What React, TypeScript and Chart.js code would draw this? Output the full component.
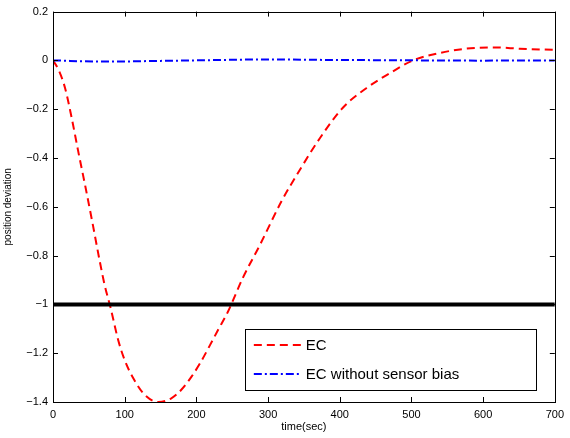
import React, { useEffect, useRef } from "react";
import { Chart, registerables } from "chart.js";

Chart.register(...registerables);

// EC response (position deviation vs. time)
const ecTime = [0, 8, 17, 26, 35, 45, 55, 65, 72, 80, 91, 100, 112, 128, 147, 165, 179, 193, 205, 219, 230, 244, 265, 288, 319, 344, 372, 404, 437, 474, 502, 539, 576, 616, 651, 700];
const ecDeviation = [0, -0.04, -0.115, -0.235, -0.37, -0.515, -0.665, -0.82, -0.92, -1.01, -1.147, -1.228, -1.303, -1.371, -1.4, -1.385, -1.35, -1.297, -1.242, -1.167, -1.106, -1.03, -0.89, -0.76, -0.576, -0.45, -0.32, -0.195, -0.114, -0.045, 0, 0.03, 0.048, 0.053, 0.048, 0.043];

// EC without sensor bias
const noBiasTime = [0, 70, 150, 220, 300, 380, 450, 520, 600, 650, 700];
const noBiasDeviation = [0, -0.005, -0.002, 0.001, 0.004, 0.002, 0.001, 0, -0.001, 0, 0];

// Deviation limit
const limitTime = [0, 700];
const limitDeviation = [-1, -1];

const xTicks = [0, 100, 200, 300, 400, 500, 600, 700];
const yTicks = [0.2, 0, -0.2, -0.4, -0.6, -0.8, -1, -1.2, -1.4];

const seriesLabels = ["EC", "EC without sensor bias"];

const RED_DASH = [8, 5];
const BLUE_DASH = [8, 3, 2, 3];
const FONT = "'Liberation Sans', Arial, Helvetica, sans-serif";

const toPoints = (xs: number[], ys: number[]) => xs.map((x, i) => ({ x, y: ys[i] }));

const fmt = (v: number) => {
  const r = Math.round(v * 10) / 10;
  if (r === 0) return "0";
  return String(r).replace("-", "\u2212");
};

// Box around the plot plus inward tick marks on all four sides
const framePlugin = {
  id: "frame",
  afterDatasetsDraw(chart: any) {
    const { ctx, chartArea: a, scales } = chart;
    const len = 5;
    ctx.save();
    ctx.strokeStyle = "#000";
    ctx.lineWidth = 1;
    ctx.beginPath();
    for (const t of xTicks) {
      const px = Math.round(scales.x.getPixelForValue(t)) + 0.5;
      ctx.moveTo(px, a.bottom);
      ctx.lineTo(px, a.bottom - len);
      ctx.moveTo(px, a.top);
      ctx.lineTo(px, a.top + len);
    }
    for (const t of yTicks) {
      const py = Math.round(scales.y.getPixelForValue(t)) + 0.5;
      ctx.moveTo(a.left, py);
      ctx.lineTo(a.left + len, py);
      ctx.moveTo(a.right, py);
      ctx.lineTo(a.right - len, py);
    }
    ctx.stroke();
    ctx.strokeRect(Math.round(a.left) + 0.5, Math.round(a.top) + 0.5, Math.round(a.right - a.left), Math.round(a.bottom - a.top));
    ctx.restore();
  },
};

// Legend box inside the plot, lower right
const legendPlugin = {
  id: "boxLegend",
  afterDraw(chart: any) {
    const { ctx, chartArea: a } = chart;
    const w = 291;
    const h = 61;
    const x0 = a.right - 19 - w;
    const y0 = a.bottom - 12 - h;
    ctx.save();
    ctx.fillStyle = "#fff";
    ctx.fillRect(x0, y0, w, h);
    ctx.strokeStyle = "#000";
    ctx.lineWidth = 1;
    ctx.strokeRect(Math.round(x0) + 0.5, Math.round(y0) + 0.5, w, h);
    const ds = chart.data.datasets.filter((d: any) => seriesLabels.includes(d.label));
    const rows = [y0 + 16, y0 + 45];
    seriesLabels.forEach((lab, i) => {
      const d = ds.find((q: any) => q.label === lab);
      const y = rows[i];
      ctx.beginPath();
      ctx.setLineDash(d.borderDash);
      ctx.strokeStyle = d.borderColor;
      ctx.lineWidth = d.borderWidth;
      ctx.moveTo(x0 + 9, y);
      ctx.lineTo(x0 + 56, y);
      ctx.stroke();
      ctx.setLineDash([]);
      ctx.fillStyle = "#000";
      ctx.font = `15px ${FONT}`;
      ctx.textBaseline = "middle";
      ctx.textAlign = "left";
      ctx.fillText(lab, x0 + 61, y + 1);
    });
    ctx.restore();
  },
};

export default function App() {
  const ref = useRef<HTMLCanvasElement | null>(null);

  useEffect(() => {
    document.body.style.margin = "0";
    const canvas = ref.current;
    if (!canvas) return;
    const chart = new Chart(canvas, {
      type: "line",
      data: {
        datasets: [
          {
            label: "limit",
            data: toPoints(limitTime, limitDeviation),
            borderColor: "#000",
            borderWidth: 4,
            pointRadius: 0,
          },
          {
            label: seriesLabels[1],
            data: toPoints(noBiasTime, noBiasDeviation),
            borderColor: "#0000ff",
            borderWidth: 2,
            borderDash: BLUE_DASH,
            pointRadius: 0,
            cubicInterpolationMode: "monotone",
          },
          {
            label: seriesLabels[0],
            data: toPoints(ecTime, ecDeviation),
            borderColor: "#ff0000",
            borderWidth: 2,
            borderDash: RED_DASH,
            pointRadius: 0,
            cubicInterpolationMode: "monotone",
          },
        ],
      },
      options: {
        responsive: false,
        animation: false,
        events: [],
        layout: { padding: { top: 10, right: 14, left: 0, bottom: 0 } },
        plugins: {
          legend: { display: false },
          tooltip: { enabled: false },
        },
        scales: {
          x: {
            type: "linear",
            min: 0,
            max: 700,
            afterFit: (s: any) => {
              s.height = 36;
            },
            afterBuildTicks: (s: any) => {
              s.ticks = xTicks.map((v) => ({ value: v }));
            },
            grid: { display: false, drawTicks: false },
            border: { display: false },
            ticks: {
              padding: 6,
              color: "#000",
              font: { family: FONT, size: 11 },
              maxRotation: 0,
              callback: (v: any) => String(v),
            },
            title: {
              display: true,
              text: "time(sec)",
              color: "#000",
              font: { family: FONT, size: 11 },
              padding: { top: 0, bottom: 4 },
            },
          },
          y: {
            type: "linear",
            min: -1.4,
            max: 0.2,
            afterFit: (s: any) => {
              s.width = 53;
            },
            afterBuildTicks: (s: any) => {
              s.ticks = yTicks.map((v) => ({ value: v }));
            },
            grid: { display: false, drawTicks: false },
            border: { display: false },
            ticks: {
              padding: 5,
              color: "#000",
              font: { family: FONT, size: 11 },
              callback: (v: any) => fmt(Number(v)),
            },
            title: {
              display: true,
              text: "position deviation",
              color: "#000",
              font: { family: FONT, size: 10 },
              padding: { top: 2, bottom: 0 },
            },
          },
        },
      },
      plugins: [framePlugin, legendPlugin],
    } as any);
    return () => chart.destroy();
  }, []);

  return <canvas ref={ref} width={570} height={438} style={{ display: "block" }} />;
}
